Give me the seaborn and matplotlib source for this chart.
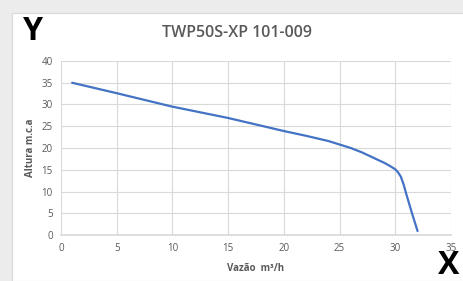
import matplotlib
matplotlib.use("Agg")
import matplotlib.pyplot as plt
import seaborn as sns
import pandas as pd
from matplotlib.patches import Rectangle

vazao = [1, 5, 10, 15, 20, 22, 24, 25, 26, 27, 28, 29, 29.5, 30, 30.25, 30.5, 30.75, 31, 31.5, 32]
altura = [35, 32.6, 29.5, 26.9, 23.9, 22.8, 21.6, 20.8, 20.0, 19.0, 17.8, 16.6, 15.9, 15.1, 14.4, 13.4, 11.6, 9.3, 5.0, 0.9]
x_ticks = [0, 5, 10, 15, 20, 25, 30, 35]
y_ticks = [0, 5, 10, 15, 20, 25, 30, 35, 40]
title = "TWP50S-XP 101-009"

sns.set_theme(style="white")
plt.rcParams['font.family'] = ['Open Sans', 'DejaVu Sans']

fig = plt.figure(figsize=(4.63, 2.81), dpi=100)
fig.patch.set_facecolor('#ececec')
fig.patches.append(Rectangle((12/463, 0), 1, 1 - 13/281, transform=fig.transFigure,
                             facecolor='white', edgecolor='#d9d9d9', linewidth=0.8, zorder=-10))

ax = fig.add_axes([61/463, 1 - 235/281, (451 - 61)/463, (235 - 61)/281])
ax.set_zorder(1)
ax.set_facecolor('white')
df = pd.DataFrame({"x": vazao, "y": altura})
sns.lineplot(data=df, x="x", y="y", ax=ax, color='#4472C4', linewidth=1.6)

ax.set_xlim(0, 35)
ax.set_ylim(0, 40)
ax.set_xticks(x_ticks)
ax.set_yticks(y_ticks)
ax.grid(True, color='#d9d9d9', linewidth=0.8)
for s in ['top', 'right', 'left']:
    ax.spines[s].set_visible(False)
ax.spines['bottom'].set_color('#d9d9d9')
ax.tick_params(axis='both', labelsize=7, colors='#595959', length=0, pad=6)
ax.set_xlabel("Vazão  m³/h", fontsize=7, fontweight='bold', color='#595959', labelpad=6)
ax.set_ylabel("Altura m.c.a", fontsize=7, fontweight='bold', color='#595959', labelpad=4)

fig.text(237/463, 1 - 33/281, title, ha='center', va='center', fontsize=11.5,
         color='#595959', fontweight='semibold')
fig.text(33/463, 1 - 32/281, "Y", ha='center', va='center', fontsize=23,
         fontweight='bold', color='black')
fig.text(449/463, 1 - 266/281, "X", ha='center', va='center', fontsize=23,
         fontweight='bold', color='black', zorder=5)

fig.savefig("out.png", dpi=100, facecolor=fig.get_facecolor())
